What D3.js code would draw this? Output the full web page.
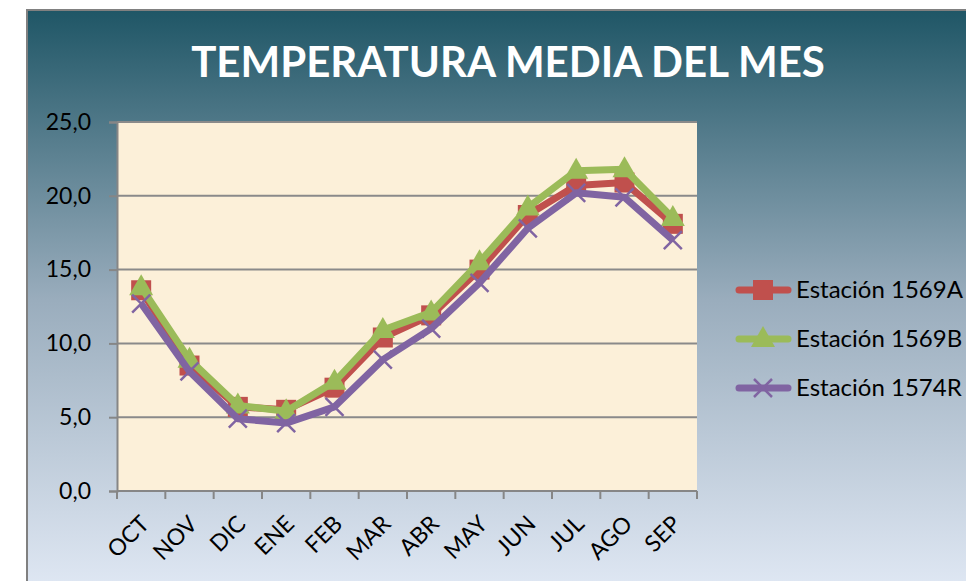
<!DOCTYPE html>
<html>
<head>
<meta charset="utf-8">
<script src="https://cdn.jsdelivr.net/npm/d3@7"></script>
<style>
  body { margin: 0; background: #fff; }
  text { font-family: Lato, "Open Sans", sans-serif; }
</style>
</head>
<body>
<div id="chart"></div>
<script>
var months = ["OCT","NOV","DIC","ENE","FEB","MAR","ABR","MAY","JUN","JUL","AGO","SEP"]
var est1569A = [13.6, 8.5, 5.7, 5.5, 7.0, 10.4, 11.9, 15.0, 18.7, 20.7, 20.9, 18.1]
var est1569B = [13.8, 8.9, 5.8, 5.4, 7.4, 10.9, 12.1, 15.5, 19.2, 21.7, 21.8, 18.5]
var est1574R = [12.7, 8.1, 4.9, 4.6, 5.7, 8.9, 11.0, 14.1, 17.8, 20.2, 19.9, 17.0]
var yTicks = [0, 5, 10, 15, 20, 25]
var seriesNames = ["Estación 1569A", "Estación 1569B", "Estación 1574R"]

var width = 966, height = 581
var plot = {left: 117, top: 122, right: 697, bottom: 491}

var svg = d3.select("#chart").append("svg")
    .attr("width", width)
    .attr("height", height)

var defs = svg.append("defs")
var grad = defs.append("linearGradient").attr("id", "bg")
    .attr("x1", 0).attr("y1", 0).attr("x2", 0).attr("y2", 1)
grad.append("stop").attr("offset", "0%").attr("stop-color", "#1f5666")
grad.append("stop").attr("offset", "50%").attr("stop-color", "#9aadbd")
grad.append("stop").attr("offset", "100%").attr("stop-color", "#e0e8f4")

// outer frame
svg.append("rect")
    .attr("x", 27).attr("y", 10)
    .attr("width", width).attr("height", height)
    .attr("fill", "url(#bg)")
    .attr("stroke", "#808080")
    .attr("stroke-width", 2)

svg.append("text")
    .attr("x", 508).attr("y", 77)
    .attr("text-anchor", "middle")
    .attr("fill", "#fff")
    .attr("font-size", 42)
    .attr("font-weight", "bold")
    .text("TEMPERATURA MEDIA DEL MES")

var x = d3.scaleBand().domain(months).range([plot.left, plot.right])
var y = d3.scaleLinear().domain([0, 25]).range([plot.bottom, plot.top])

// plot background
svg.append("rect")
    .attr("x", plot.left).attr("y", plot.top)
    .attr("width", plot.right - plot.left).attr("height", plot.bottom - plot.top)
    .attr("fill", "#fcf0d9")

// gridlines
svg.selectAll(".grid")
    .data(yTicks.filter(function(d){ return d > 0 }))
    .enter().append("line")
    .attr("x1", plot.left).attr("x2", plot.right)
    .attr("y1", function(d){ return y(d) }).attr("y2", function(d){ return y(d) })
    .attr("stroke", "#8a8a8a").attr("stroke-width", 2)

// y axis
var yAxis = svg.append("g")
    .attr("transform", "translate(" + plot.left + ",0)")
    .call(d3.axisLeft(y).tickValues(yTicks).tickSize(8).tickPadding(18)
        .tickFormat(function(d){ return d3.format(".1f")(d).replace(".", ",") }))
yAxis.selectAll("line").attr("stroke", "#868686").attr("stroke-width", 2)
yAxis.select(".domain").attr("stroke", "#868686").attr("stroke-width", 2)
yAxis.selectAll("text").attr("font-size", 23).attr("fill", "#000")
    .attr("font-family", "Lato, sans-serif")

// x axis: ticks at band edges
var xAxisG = svg.append("g")
svg.append("line")
    .attr("x1", plot.left).attr("x2", plot.right)
    .attr("y1", plot.bottom).attr("y2", plot.bottom)
    .attr("stroke", "#868686").attr("stroke-width", 2)
var edges = months.map(function(m){ return x(m) }).concat([plot.right])
xAxisG.selectAll("line")
    .data(edges)
    .enter().append("line")
    .attr("x1", function(d){ return d }).attr("x2", function(d){ return d })
    .attr("y1", plot.bottom).attr("y2", plot.bottom + 8)
    .attr("stroke", "#868686").attr("stroke-width", 2)
xAxisG.selectAll("text")
    .data(months)
    .enter().append("text")
    .attr("transform", function(d){
        return "translate(" + (x(d) + x.bandwidth() / 2 - 2) + "," + (plot.bottom + 23) + ") rotate(-45)"
    })
    .attr("text-anchor", "end")
    .attr("dy", "0.7em")
    .attr("font-size", 23)
    .attr("fill", "#000")
    .text(function(d){ return d })

var series = [
    {name: seriesNames[0], values: est1569A, color: "#c0504d", marker: "square"},
    {name: seriesNames[1], values: est1569B, color: "#9bbb59", marker: "triangle"},
    {name: seriesNames[2], values: est1574R, color: "#8064a2", marker: "x"}
]

var line = d3.line()
    .x(function(d, i){ return x(months[i]) + x.bandwidth() / 2 })
    .y(function(d){ return y(d) })

function drawMarker(g, type, color) {
    if (type === "square") {
        g.append("rect").attr("x", -10).attr("y", -10).attr("width", 20).attr("height", 20)
            .attr("fill", color)
    } else if (type === "triangle") {
        g.append("path").attr("d", "M0,-13L12,8L-12,8Z").attr("fill", color)
    } else {
        g.append("path").attr("d", "M-9,-9L9,9M-9,9L9,-9")
            .attr("stroke", color).attr("stroke-width", 2.5).attr("fill", "none")
    }
}

series.forEach(function(s){
    svg.append("path")
        .datum(s.values)
        .attr("d", line)
        .attr("fill", "none")
        .attr("stroke", s.color)
        .attr("stroke-width", 7)
        .attr("stroke-linejoin", "round")
    s.values.forEach(function(v, i){
        var g = svg.append("g")
            .attr("transform", "translate(" + (x(months[i]) + x.bandwidth() / 2) + "," + y(v) + ")")
        drawMarker(g, s.marker, s.color)
    })
})

// legend
var legend = svg.append("g")
series.forEach(function(s, i){
    var ly = 290 + i * 49
    legend.append("line")
        .attr("x1", 739).attr("x2", 788)
        .attr("y1", ly).attr("y2", ly)
        .attr("stroke", s.color).attr("stroke-width", 7)
        .attr("stroke-linecap", "round")
    var g = legend.append("g").attr("transform", "translate(763," + ly + ")")
    drawMarker(g, s.marker, s.color)
    legend.append("text")
        .attr("x", 796).attr("y", ly)
        .attr("dy", "0.35em")
        .attr("font-size", 24)
        .attr("fill", "#000")
        .text(s.name)
})
</script>
</body>
</html>
